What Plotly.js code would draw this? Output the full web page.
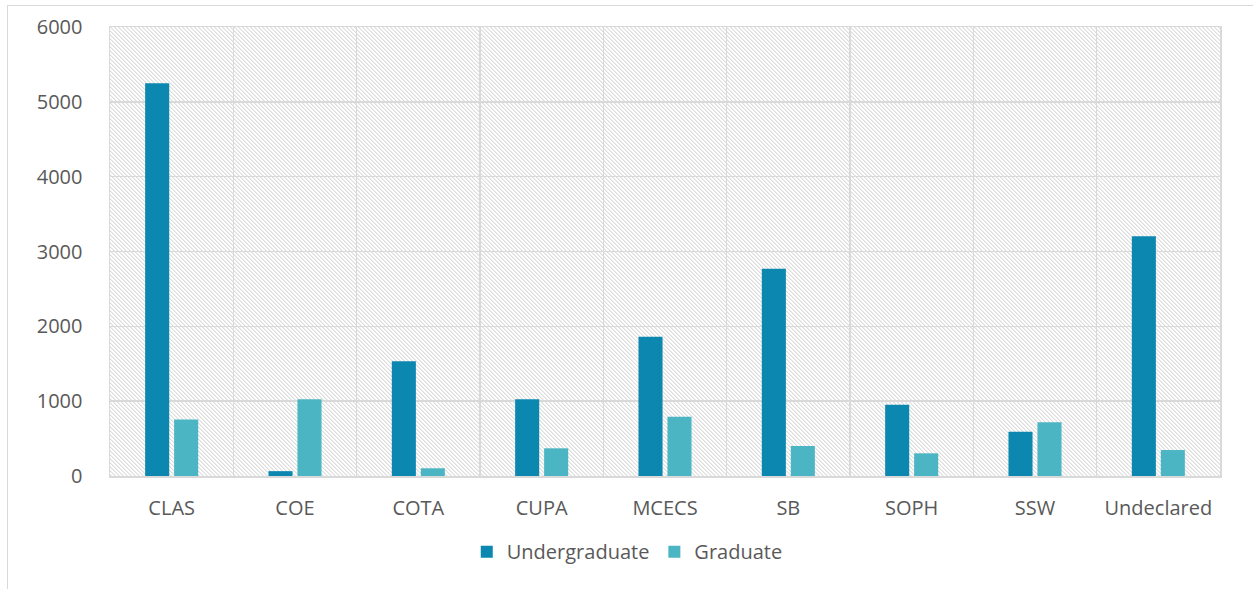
<!DOCTYPE html>
<html>
<head>
<meta charset="utf-8">
<script src="https://cdn.plot.ly/plotly-3.0.1.min.js"></script>
<style>
  html, body { margin: 0; padding: 0; background: #ffffff; }
  #wrap { position: relative; width: 1253px; height: 589px; overflow: hidden; }
  #frame { position: absolute; left: 7px; top: 5px; width: 1260px; height: 600px;
           border-left: 1px solid #d9d9d9; border-top: 1px solid #d9d9d9; box-sizing: border-box; }
  #hatch { position: absolute; left: 110px; top: 27px; width: 1110px; height: 449px;
           background-image: url("data:image/svg+xml,%3Csvg xmlns='http://www.w3.org/2000/svg' width='4' height='4' shape-rendering='crispEdges'%3E%3Crect x='0' y='0' width='1' height='1' fill='%23dedede'/%3E%3Crect x='1' y='1' width='1' height='1' fill='%23dedede'/%3E%3Crect x='2' y='2' width='1' height='1' fill='%23dedede'/%3E%3Crect x='3' y='3' width='1' height='1' fill='%23dedede'/%3E%3Crect x='1' y='0' width='1' height='1' fill='%23ececec'/%3E%3Crect x='2' y='1' width='1' height='1' fill='%23ececec'/%3E%3Crect x='3' y='2' width='1' height='1' fill='%23ececec'/%3E%3Crect x='0' y='3' width='1' height='1' fill='%23ececec'/%3E%3C/svg%3E");
           background-size: 4px 4px; background-repeat: repeat; image-rendering: pixelated; }
  #chart { position: absolute; left: 0; top: 0; width: 1253px; height: 589px; }
</style>
</head>
<body>
<div id="wrap">
  <div id="frame"></div>
  <div id="hatch"></div>
  <div id="chart"></div>
</div>
<script>
const categories = ["CLAS", "COE", "COTA", "CUPA", "MCECS", "SB", "SOPH", "SSW", "Undeclared"];
const undergraduate = [5250, 65, 1535, 1025, 1860, 2770, 953, 592, 3205];
const graduate = [755, 1025, 103, 370, 793, 401, 303, 717, 347];
const yTicks = [0, 1000, 2000, 3000, 4000, 5000, 6000];

const traces = [
  { type: "bar", name: "Undergraduate", x: categories, y: undergraduate,
    marker: { color: "#0b87b0" }, hoverinfo: "x+y" },
  { type: "bar", name: "Graduate", x: categories, y: graduate,
    marker: { color: "#4bb5c4" }, hoverinfo: "x+y" }
];

const layout = {
  width: 1253, height: 589,
  margin: { l: 110, r: 33, t: 27, b: 113 },
  paper_bgcolor: "rgba(0,0,0,0)",
  plot_bgcolor: "rgba(0,0,0,0)",
  barmode: "group",
  bargap: 0.53,
  bargroupgap: 0.17,
  font: { family: "Open Sans, Noto Sans, sans-serif", size: 20, color: "#595959" },
  xaxis: {
    type: "category", automargin: false,
    tickson: "boundaries",
    showgrid: true, gridcolor: "#d9d9d9", gridwidth: 1.5,
    showline: true, linecolor: "#d9d9d9", linewidth: 1.5, mirror: true,
    ticks: "", ticklabelstandoff: 13,
    tickfont: { size: 20, color: "#595959" }
  },
  yaxis: {
    range: [0, 6000], automargin: false,
    tickvals: yTicks, ticktext: yTicks.map(String),
    showgrid: true, gridcolor: "#d9d9d9", gridwidth: 1.5,
    showline: true, linecolor: "#d9d9d9", linewidth: 1.5, mirror: true,
    zeroline: false, ticks: "", ticklabelstandoff: 22,
    tickfont: { size: 20, color: "#595959" }
  },
  legend: {
    orientation: "h", x: 0.466, xanchor: "center", y: -0.125, yanchor: "top",
    font: { size: 20, color: "#595959" }, itemwidth: 30, traceorder: "normal"
  },
  showlegend: true
};

Plotly.newPlot("chart", traces, layout, { displayModeBar: false, staticPlot: true });
</script>
</body>
</html>
